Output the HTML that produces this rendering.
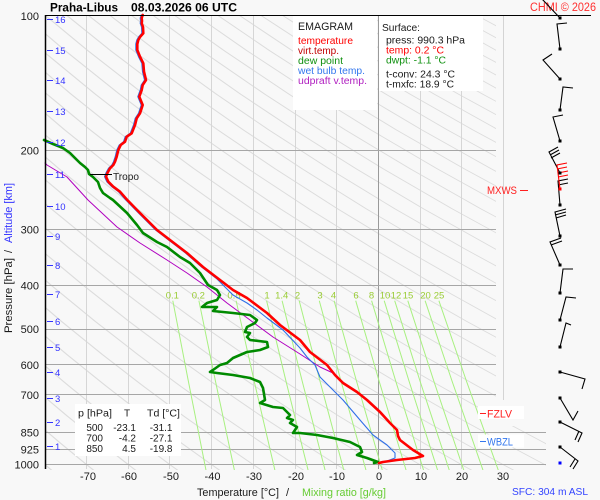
<!DOCTYPE html>
<html><head><meta charset="utf-8">
<style>
html,body{margin:0;padding:0;background:#f8f8f8;}
svg{display:block;font-family:"Liberation Sans",Arial,sans-serif;}
</style></head>
<body>
<svg width="600" height="500" viewBox="0 0 600 500" xmlns="http://www.w3.org/2000/svg" xmlns:xlink="http://www.w3.org/1999/xlink">
<defs>
<clipPath id="pc"><path d="M45,15 H496 V426 H546 V470 H45 Z"/></clipPath>
<path id="da" fill="none" d="M2.155833,15 L2.271229,50.59 L2.420902,94.15 L2.550484,129.74 L2.701148,168.91 L2.864079,208.88 L3.033261,248.05 L3.204826,285.62 L3.376370,321.19 L3.546460,354.74 L3.714260,386.29 L3.879306,415.97 L4.041366,443.90 L4.165000,464.46 L4.234993,475.84"/>
</defs>
<rect x="0" y="0" width="600" height="500" fill="#f8f8f8"/>

<g clip-path="url(#pc)">
  <g fill="none" stroke="#dcdcdc">
    <use href="#da" transform="translate(-759.67,0) scale(193.15,1)" stroke-width="0.009319"/>
    <use href="#da" transform="translate(-759.67,0) scale(203.15,1)" stroke-width="0.008861"/>
    <use href="#da" transform="translate(-759.67,0) scale(213.15,1)" stroke-width="0.008445"/>
    <use href="#da" transform="translate(-759.67,0) scale(223.15,1)" stroke-width="0.008066"/>
    <use href="#da" transform="translate(-759.67,0) scale(233.15,1)" stroke-width="0.007720"/>
    <use href="#da" transform="translate(-759.67,0) scale(243.15,1)" stroke-width="0.007403"/>
    <use href="#da" transform="translate(-759.67,0) scale(253.15,1)" stroke-width="0.007111"/>
    <use href="#da" transform="translate(-759.67,0) scale(263.15,1)" stroke-width="0.006840"/>
    <use href="#da" transform="translate(-759.67,0) scale(273.15,1)" stroke-width="0.006590"/>
    <use href="#da" transform="translate(-759.67,0) scale(283.15,1)" stroke-width="0.006357"/>
    <use href="#da" transform="translate(-759.67,0) scale(293.15,1)" stroke-width="0.006140"/>
    <use href="#da" transform="translate(-759.67,0) scale(303.15,1)" stroke-width="0.005938"/>
    <use href="#da" transform="translate(-759.67,0) scale(313.15,1)" stroke-width="0.005748"/>
    <use href="#da" transform="translate(-759.67,0) scale(323.15,1)" stroke-width="0.005570"/>
    <use href="#da" transform="translate(-759.67,0) scale(333.15,1)" stroke-width="0.005403"/>
    <use href="#da" transform="translate(-759.67,0) scale(343.15,1)" stroke-width="0.005245"/>
    <use href="#da" transform="translate(-759.67,0) scale(353.15,1)" stroke-width="0.005097"/>
    <use href="#da" transform="translate(-759.67,0) scale(363.15,1)" stroke-width="0.004957"/>
    <use href="#da" transform="translate(-759.67,0) scale(373.15,1)" stroke-width="0.004824"/>
    <use href="#da" transform="translate(-759.67,0) scale(383.15,1)" stroke-width="0.004698"/>
    <use href="#da" transform="translate(-759.67,0) scale(393.15,1)" stroke-width="0.004578"/>
    <use href="#da" transform="translate(-759.67,0) scale(403.15,1)" stroke-width="0.004465"/>
    <use href="#da" transform="translate(-759.67,0) scale(413.15,1)" stroke-width="0.004357"/>
    <use href="#da" transform="translate(-759.67,0) scale(423.15,1)" stroke-width="0.004254"/>
    <use href="#da" transform="translate(-759.67,0) scale(433.15,1)" stroke-width="0.004156"/>
    <use href="#da" transform="translate(-759.67,0) scale(443.15,1)" stroke-width="0.004062"/>
    <use href="#da" transform="translate(-759.67,0) scale(453.15,1)" stroke-width="0.003972"/>
    <use href="#da" transform="translate(-759.67,0) scale(463.15,1)" stroke-width="0.003886"/>
    <use href="#da" transform="translate(-759.67,0) scale(473.15,1)" stroke-width="0.003804"/>
    <use href="#da" transform="translate(-759.67,0) scale(483.15,1)" stroke-width="0.003726"/>
    <use href="#da" transform="translate(-759.67,0) scale(493.15,1)" stroke-width="0.003650"/>
    <use href="#da" transform="translate(-759.67,0) scale(503.15,1)" stroke-width="0.003577"/>
    <use href="#da" transform="translate(-759.67,0) scale(513.15,1)" stroke-width="0.003508"/>
    <use href="#da" transform="translate(-759.67,0) scale(523.15,1)" stroke-width="0.003441"/>
    <use href="#da" transform="translate(-759.67,0) scale(533.15,1)" stroke-width="0.003376"/>
    <use href="#da" transform="translate(-759.67,0) scale(543.15,1)" stroke-width="0.003314"/>
    <use href="#da" transform="translate(-759.67,0) scale(553.15,1)" stroke-width="0.003254"/>
    <use href="#da" transform="translate(-759.67,0) scale(563.15,1)" stroke-width="0.003196"/>
    <use href="#da" transform="translate(-759.67,0) scale(573.15,1)" stroke-width="0.003141"/>
    <use href="#da" transform="translate(-759.67,0) scale(583.15,1)" stroke-width="0.003087"/>
    <use href="#da" transform="translate(-759.67,0) scale(593.15,1)" stroke-width="0.003035"/>
  </g>
  <g stroke="#d6d6d6" stroke-width="1">
    <line x1="86.5" y1="15" x2="86.5" y2="469"/>
    <line x1="128.5" y1="15" x2="128.5" y2="469"/>
    <line x1="169.5" y1="15" x2="169.5" y2="469"/>
    <line x1="211.5" y1="15" x2="211.5" y2="469"/>
    <line x1="253.5" y1="15" x2="253.5" y2="469"/>
    <line x1="295.5" y1="15" x2="295.5" y2="469"/>
    <line x1="336.5" y1="15" x2="336.5" y2="469"/>
    <line x1="420.5" y1="15" x2="420.5" y2="469"/>
    <line x1="461.5" y1="15" x2="461.5" y2="469"/>
  </g>
  <line x1="378.5" y1="15" x2="378.5" y2="469" stroke="#9a9a9a" stroke-width="1"/>
  <g stroke="#a6a6a6" stroke-width="1">
    <line x1="45" y1="150.5" x2="496" y2="150.5"/>
    <line x1="45" y1="229.5" x2="496" y2="229.5"/>
    <line x1="45" y1="285.5" x2="496" y2="285.5"/>
    <line x1="45" y1="329.5" x2="496" y2="329.5"/>
    <line x1="45" y1="364.5" x2="496" y2="364.5"/>
    <line x1="45" y1="394.5" x2="496" y2="394.5"/>
    <line x1="45" y1="432.5" x2="546" y2="432.5"/>
    <line x1="45" y1="449.5" x2="546" y2="449.5"/>
    <line x1="45" y1="464.5" x2="546" y2="464.5"/>
  </g>
  <g fill="none" stroke="#a8f080" stroke-width="1">
    <polyline points="172.8,300.7 188.2,380.4 206.0,470.2"/>
    <polyline points="198.9,300.7 215.3,380.4 234.4,470.2"/>
    <polyline points="236.1,300.7 254.0,380.4 274.9,470.2"/>
    <polyline points="266.6,300.7 285.8,380.4 308.1,470.2"/>
    <polyline points="282.1,300.7 302.0,380.4 325.1,470.2"/>
    <polyline points="299.2,300.7 319.8,380.4 343.8,470.2"/>
    <polyline points="319.3,300.7 340.8,380.4 366.0,470.2"/>
    <polyline points="334.1,300.7 356.3,380.4 382.3,470.2"/>
    <polyline points="355.7,300.7 378.9,380.4 406.1,470.2"/>
    <polyline points="371.6,300.7 395.5,380.4 423.6,470.2"/>
    <polyline points="384.2,300.7 408.8,380.4 437.6,470.2"/>
    <polyline points="394.7,300.7 419.8,380.4 449.3,470.2"/>
    <polyline points="407.8,300.7 433.6,380.4 463.8,470.2"/>
    <polyline points="425.1,300.7 451.8,380.4 483.0,470.2"/>
    <polyline points="438.9,300.7 466.2,380.4 498.3,470.2"/>
  </g>
</g>

<!-- separator line of wind column -->
<line x1="503.5" y1="15" x2="503.5" y2="400" stroke="#d4d4d4" stroke-width="1"/>

<!-- mixing ratio labels -->
<g font-size="9.5" fill="#99cc33" text-anchor="middle">
  <text x="172.3" y="298.5">0.1</text>
  <text x="198.3" y="298.5">0.2</text>
  <text x="234" y="298.5">0.5</text>
  <text x="267" y="298.5">1</text>
  <text x="281.7" y="298.5">1.4</text>
  <text x="297.5" y="298.5">2</text>
  <text x="320" y="298.5">3</text>
  <text x="333.5" y="298.5">4</text>
  <text x="356" y="298.5">6</text>
  <text x="371.5" y="298.5">8</text>
  <text x="385" y="298.5">10</text>
  <text x="396" y="298.5">12</text>
  <text x="408" y="298.5">15</text>
  <text x="425.5" y="298.5">20</text>
  <text x="439" y="298.5">25</text>
</g>

<!-- data curves -->
<g fill="none" stroke-linejoin="round" stroke-linecap="round">
  <polyline stroke="#b000c0" stroke-width="1" points="45,163 47,165 67,177 88,200 117,227 140,243 167,260 187,273 207,287 227,303 250,320 273,337 300,354 320,367 333,373 343,382"/>
  <polyline stroke="#2f6fe8" stroke-width="1.1" points="141.2,15 140.2,18 140.5,21 140.2,23.3 141.5,27 141.8,33.3 138.5,37 136.8,40 135.8,44 135.8,50 138.5,56.7 141.8,63.3 142.5,71.7 144.5,80 141.2,85 140.2,90 137.8,96.7 141.2,105 138.5,113.3 135.2,118.3 133.5,125 130.2,133.3 125.2,136.7 123.5,141.7 119.2,145 116.8,150 115.2,156.7 113.5,161.7 111.8,165 108.5,168.3 105.8,173.3 104.5,176.7 106.8,181.7 111.8,186.7 118.5,191.7 125.8,200 138.5,213 155.5,230 168.5,240 185.5,253 201.5,267 217,279 233,295 247,303 257,310 267,318 283,330 300,348 307,357 315,365 320,377 325,382 330,387 343,400 360,420 373,435 387,445 395,453 395,458 387,461 380,463"/>
  <polyline stroke="#008a00" stroke-width="2.6" points="44,140 53,144 63,148 70,153 75,158 80,163 85,167 88,170 89,174 93,177 98,182 100,188 103,193 110,198 113,200 127,213 137,225 143,233 157,242 167,247 180,257 190,263 200,273 208,285 217,290 220,295 217,300 207,303 202,307 217,307 213,311 233,313 250,315 257,320 255,323 247,327 245,332 250,333 247,337 250,340 267,342 268,347 260,350 247,352 233,358 227,363 220,365 213,370 210,372 217,373 233,375 250,378 260,382 263,388 265,400 260,403 273,407 283,408 290,415 287,418 293,420 290,423 297,427 293,433 300,433 317,435 333,438 350,442 360,447 362,452 357,455 367,458 378,462 374,463"/>
  <polyline stroke="#ff0000" stroke-width="2.6" points="142.7,15 141.7,18 142,21 141.7,23.3 143,27 143.3,33.3 140,37 138.3,40 137.3,44 137.3,50 140,56.7 143.3,63.3 144,71.7 146,80 142.7,85 141.7,90 139.3,96.7 142.7,105 140,113.3 136.7,118.3 135,125 131.7,133.3 126.7,136.7 125,141.7 120.7,145 118.3,150 116.7,156.7 115,161.7 113.3,165 110,168.3 107.3,173.3 106,176.7 108.3,181.7 113.3,186.7 120,191.7 127.3,200 140,213 157,230 170,240 187,253 203,267 220,280 233,290 247,298 267,313 280,325 300,340 310,352 327,365 335,375 343,383 357,392 367,400 380,412 390,423 397,430 398,436 400,440 413,450 423,456 415,458 397,460 383,462 379,463"/>
</g>

<!-- tropopause -->
<line x1="90" y1="174.5" x2="112" y2="174.5" stroke="#000" stroke-width="1"/>
<text x="113" y="180" font-size="10.5" fill="#222" textLength="26" lengthAdjust="spacingAndGlyphs">Tropo</text>

<!-- axes -->
<line x1="45" y1="15.5" x2="591" y2="15.5" stroke="#000" stroke-width="1"/>
<line x1="45.5" y1="15" x2="45.5" y2="469" stroke="#000" stroke-width="1.5"/>

<!-- pressure labels -->
<g font-size="11" fill="#1a1a1a" text-anchor="end">
  <text x="39" y="20">100</text>
  <text x="39" y="154.3">200</text>
  <text x="39" y="233.4">300</text>
  <text x="39" y="289.6">400</text>
  <text x="39" y="333.2">500</text>
  <text x="39" y="368.8">600</text>
  <text x="39" y="398.8">700</text>
  <text x="39" y="436.7">850</text>
  <text x="39" y="453.4">925</text>
  <text x="39" y="468.5">1000</text>
</g>

<!-- altitude ticks -->
<g stroke="#3333ff" stroke-width="1">
  <line x1="47" y1="19.5" x2="53" y2="19.5"/>
  <line x1="47" y1="50.5" x2="53" y2="50.5"/>
  <line x1="47" y1="80.5" x2="53" y2="80.5"/>
  <line x1="47" y1="111.5" x2="53" y2="111.5"/>
  <line x1="47" y1="142.5" x2="53" y2="142.5"/>
  <line x1="47" y1="174.5" x2="53" y2="174.5"/>
  <line x1="47" y1="206.5" x2="53" y2="206.5"/>
  <line x1="47" y1="236.5" x2="53" y2="236.5"/>
  <line x1="47" y1="265.5" x2="53" y2="265.5"/>
  <line x1="47" y1="294.5" x2="53" y2="294.5"/>
  <line x1="47" y1="321.5" x2="53" y2="321.5"/>
  <line x1="47" y1="347.5" x2="53" y2="347.5"/>
  <line x1="47" y1="372.5" x2="53" y2="372.5"/>
  <line x1="47" y1="398.5" x2="53" y2="398.5"/>
  <line x1="47" y1="422.5" x2="53" y2="422.5"/>
  <line x1="47" y1="446.5" x2="53" y2="446.5"/>
</g>
<g font-size="9.5" fill="#3333ff">
  <text x="55" y="23">16</text>
  <text x="55" y="54">15</text>
  <text x="55" y="84">14</text>
  <text x="55" y="115">13</text>
  <text x="55" y="146">12</text>
  <text x="55" y="178">11</text>
  <text x="55" y="210">10</text>
  <text x="55" y="240">9</text>
  <text x="55" y="269">8</text>
  <text x="55" y="298">7</text>
  <text x="55" y="325">6</text>
  <text x="55" y="351">5</text>
  <text x="55" y="376">4</text>
  <text x="55" y="402">3</text>
  <text x="55" y="426">2</text>
  <text x="55" y="450">1</text>
</g>

<!-- temperature labels -->
<g font-size="11" fill="#1a1a1a" text-anchor="middle">
  <text x="88" y="480">-70</text>
  <text x="129" y="480">-60</text>
  <text x="171" y="480">-50</text>
  <text x="212.5" y="480">-40</text>
  <text x="254" y="480">-30</text>
  <text x="296" y="480">-20</text>
  <text x="337" y="480">-10</text>
  <text x="379" y="480">0</text>
  <text x="421" y="480">10</text>
  <text x="462" y="480">20</text>
  <text x="503" y="480">30</text>
</g>

<!-- axis titles -->
<text x="197" y="496" font-size="11" fill="#1a1a1a" textLength="82" lengthAdjust="spacingAndGlyphs">Temperature [°C]</text>
<text x="286" y="496" font-size="11" fill="#1a1a1a">/</text>
<text x="302" y="496" font-size="11" fill="#66cc33" textLength="84" lengthAdjust="spacingAndGlyphs">Mixing ratio [g/kg]</text>

<text transform="translate(12,333) rotate(-90)" font-size="11" fill="#1a1a1a" textLength="75" lengthAdjust="spacingAndGlyphs">Pressure [hPa]</text>
<text transform="translate(12,253) rotate(-90)" font-size="11" fill="#1a1a1a">/</text>
<text transform="translate(12,243) rotate(-90)" font-size="11" fill="#3333ff" textLength="60" lengthAdjust="spacingAndGlyphs">Altitude [km]</text>

<!-- title -->
<text x="50" y="11.7" font-size="12" font-weight="bold" fill="#000" textLength="68" lengthAdjust="spacingAndGlyphs">Praha-Libus</text>
<text x="131" y="11.7" font-size="12" font-weight="bold" fill="#000" textLength="106" lengthAdjust="spacingAndGlyphs">08.03.2026 06 UTC</text>
<text x="530" y="11" font-size="11.5" fill="#ff3030" textLength="66" lengthAdjust="spacingAndGlyphs">CHMI © 2026</text>

<!-- legend box -->
<rect x="293" y="16" width="84" height="94" fill="#ffffff"/>
<text x="298" y="30" font-size="11" fill="#1a1a1a" textLength="55" lengthAdjust="spacingAndGlyphs">EMAGRAM</text>
<g font-size="10">
  <text x="298" y="44" fill="#ff0000" textLength="55" lengthAdjust="spacingAndGlyphs">temperature</text>
  <text x="298" y="54" fill="#c00000" textLength="41" lengthAdjust="spacingAndGlyphs">virt.temp.</text>
  <text x="298" y="64" fill="#109010" textLength="45" lengthAdjust="spacingAndGlyphs">dew point</text>
  <text x="298" y="74" fill="#3377ee" textLength="67" lengthAdjust="spacingAndGlyphs">wet bulb temp.</text>
  <text x="298" y="84" fill="#b020c0" textLength="69" lengthAdjust="spacingAndGlyphs">udpraft v.temp.</text>
</g>

<!-- surface box -->
<rect x="379" y="16" width="104" height="75" fill="#ffffff"/>
<g font-size="10">
  <text x="382" y="31" fill="#1a1a1a" textLength="38" lengthAdjust="spacingAndGlyphs">Surface:</text>
  <text x="386" y="43.5" fill="#1a1a1a" textLength="79" lengthAdjust="spacingAndGlyphs">press: 990.3 hPa</text>
  <text x="386" y="53.5" fill="#ff0000" textLength="58" lengthAdjust="spacingAndGlyphs">temp: 0.2 °C</text>
  <text x="386" y="63.5" fill="#109010" textLength="60" lengthAdjust="spacingAndGlyphs">dwpt: -1.1 °C</text>
  <text x="386" y="77.5" fill="#1a1a1a" textLength="69" lengthAdjust="spacingAndGlyphs">t-conv: 24.3 °C</text>
  <text x="386" y="87.5" fill="#1a1a1a" textLength="68" lengthAdjust="spacingAndGlyphs">t-mxfc: 18.9 °C</text>
</g>

<!-- data table -->
<rect x="75" y="404" width="106" height="52" fill="#ffffff"/>
<g font-size="10" fill="#1a1a1a">
  <text x="78" y="416.5" textLength="34" lengthAdjust="spacingAndGlyphs">p [hPa]</text>
  <text x="124" y="416.5">T</text>
  <text x="147" y="416.5" textLength="33" lengthAdjust="spacingAndGlyphs">Td [°C]</text>
</g>
<g font-size="10" fill="#1a1a1a" text-anchor="end">
  <text x="103" y="431">500</text><text x="136" y="431">-23.1</text><text x="172.5" y="431">-31.1</text>
  <text x="103" y="441.5">700</text><text x="136" y="441.5">-4.2</text><text x="172.5" y="441.5">-27.1</text>
  <text x="103" y="452">850</text><text x="136" y="452">4.5</text><text x="172.5" y="452">-19.8</text>
</g>

<!-- level labels -->
<text x="487" y="194" font-size="11" fill="#ff2020" textLength="30" lengthAdjust="spacingAndGlyphs">MXWS</text>
<line x1="520" y1="190.5" x2="528" y2="190.5" stroke="#ff2020" stroke-width="1"/>

<rect x="478" y="406" width="46" height="13" fill="#ffffff"/>
<line x1="480" y1="413.5" x2="486" y2="413.5" stroke="#ff2020" stroke-width="1"/>
<text x="487" y="417.5" font-size="11" fill="#ff2020" textLength="25" lengthAdjust="spacingAndGlyphs">FZLV</text>

<rect x="478" y="434.5" width="46" height="13" fill="#ffffff"/>
<line x1="480" y1="441.5" x2="486" y2="441.5" stroke="#3377ee" stroke-width="1"/>
<text x="487" y="445.5" font-size="11" fill="#3377ee" textLength="26" lengthAdjust="spacingAndGlyphs">WBZL</text>

<text x="512" y="495" font-size="10.5" fill="#3344ff" textLength="76" lengthAdjust="spacingAndGlyphs">SFC: 304 m ASL</text>

<!-- wind barbs -->
<path fill="none" stroke="#000" stroke-width="1.1" d="
M560,18 L542,-1
M560,49 L557,24 L567,23
M560,79 L543,60 L552,54
M560,110 L563,87 L573,88
M560,141 L553,117 L563,115
M560,173 L549,152 L558,147 M550,155 L559,150 M551,158 L560,153
M560,205 L558,181 L568,179 M558,185 L568,183
M560,236 L555,212 L566,209 M555,215 L566,212 M556,218 L566,215
M560,265 L550,242 L561,238 M551,245 L562,241
M560,293 L563,269 L573,269
M560,320 L566,297 L576,298
M560,347 L566,323 L571,325
M560,372 L585,379 L582,389
M560,398 L573,420 L578,411
M560,422 L582,433 L578,442 M579,431 L575,440
M560,447 L578,461 L573,469 M575,459 L570,467"/>
<path fill="none" stroke="#ff0000" stroke-width="1.1" d="M560,189 L557,165 L567,163 M557,169 L567,167 M558,173 L568,171 M558,177 L568,175"/>
<g fill="#000">
  <rect x="558.5" y="16.5" width="3" height="3"/>
  <rect x="558.5" y="47.5" width="3" height="3"/>
  <rect x="558.5" y="77.5" width="3" height="3"/>
  <rect x="558.5" y="108.5" width="3" height="3"/>
  <rect x="558.5" y="139.5" width="3" height="3"/>
  <rect x="558.5" y="171.5" width="3" height="3"/>
  <rect x="558.5" y="203.5" width="3" height="3"/>
  <rect x="558.5" y="234.5" width="3" height="3"/>
  <rect x="558.5" y="263.5" width="3" height="3"/>
  <rect x="558.5" y="291.5" width="3" height="3"/>
  <rect x="558.5" y="318.5" width="3" height="3"/>
  <rect x="558.5" y="345.5" width="3" height="3"/>
  <rect x="558.5" y="370.5" width="3" height="3"/>
  <rect x="558.5" y="396.5" width="3" height="3"/>
  <rect x="558.5" y="420.5" width="3" height="3"/>
  <rect x="558.5" y="445.5" width="3" height="3"/>
</g>
<rect x="558.5" y="187.5" width="3" height="3" fill="#ff0000"/>
<rect x="558.5" y="461.5" width="3" height="3" fill="#0000ff"/>
</svg>
</body></html>
